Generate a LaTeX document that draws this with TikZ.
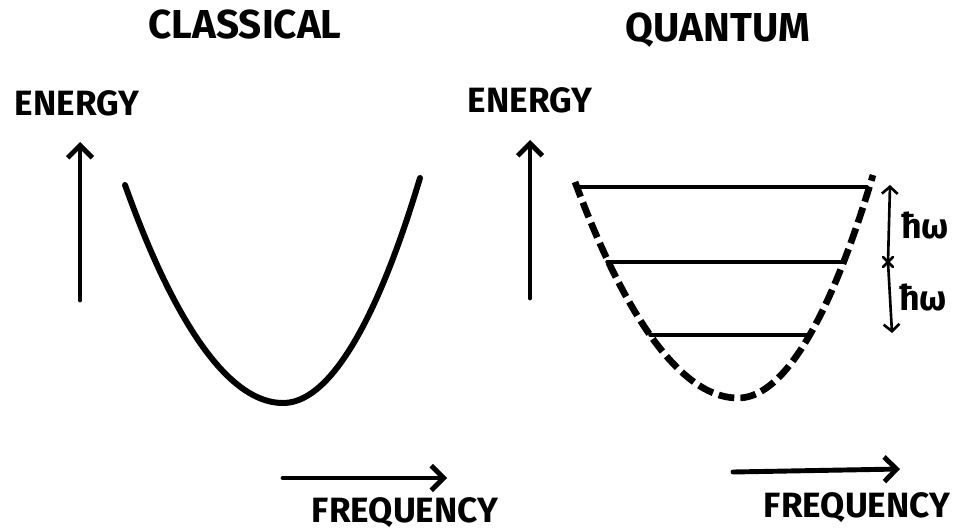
\documentclass[tikz,border=0pt]{standalone}
\usepackage{fontspec}
\setmainfont{Fira Sans}
\usetikzlibrary{calc}
\usetikzlibrary{positioning,arrows.meta}

\begin{document}
\begin{tikzpicture}[
  x=0.02cm, y=-0.02cm,
  >={Straight Barb[length=7pt,width=14pt]},   % hand drawn chevron tips
  title/.style={font=\fontsize{23}{23}\selectfont\bfseries, inner sep=0pt},
  word/.style={font=\fontsize{20}{20}\selectfont\bfseries, inner sep=0pt},
  axis/.style={->, line width=2.8pt, line cap=round},
  well/.style={line width=3.4pt, line cap=round},
  dashwell/.style={line width=3.8pt, dash pattern=on 9pt off 3.5pt},
  level/.style={line width=2pt, line cap=round},
  gap/.style={line width=1.5pt, line cap=round, >={Straight Barb[length=4pt,width=9pt]}}
]
\useasboundingbox (0,0) rectangle (959,530);

% Titles
\node[title] (classical) at (245,25) {CLASSICAL};
\node[title] (quantum)   at (718,30) {QUANTUM};

% Classical side
\coordinate (eLowL)  at (80,300);
\coordinate (eHighL) at (80,142);
\node[word] (energyL) at (77,103) {ENERGY};
\draw[axis] (eLowL) -- (eHighL);

\coordinate (fLowL)  at (283,478);
\coordinate (fHighL) at (447,478);
\node[word] (freqL) at (405,513) {FREQUENCY};
\draw[axis] (fLowL) -- (fHighL);

\coordinate (cA) at (125,185);
\coordinate (cB) at (283,403);
\coordinate (cC) at (420,178);
\draw[well] (cA) parabola bend (cB) (cC);

% Quantum side
\coordinate (eLowR)  at (530,298);
\coordinate (eHighR) at (530,140);
\node[word] (energyR) at (530,100) {ENERGY};
\draw[axis] (eLowR) -- (eHighR);

\coordinate (fLowR)  at (733,472);
\coordinate (fHighR) at (900,469);
\node[word] (freqR) at (857,508) {FREQUENCY};
\draw[axis] (fLowR) -- (fHighR);

\coordinate (qA) at (575,182);
\coordinate (qB) at (738,398);
\coordinate (qC) at (873,175);
\draw[dashwell] (qA) parabola bend (qB) (qC);

% Levels
\coordinate (l1a) at (578,187); \coordinate (l1b) at (867,187);
\coordinate (l2a) at (607,262); \coordinate (l2b) at (843,262);
\coordinate (l3a) at (650,335); \coordinate (l3b) at (811,335);
\draw[level] (l1a) -- (l1b);
\draw[level] (l2a) -- (l2b);
\draw[level] (l3a) -- (l3b);

% Spacing
\coordinate (g1) at (890,185);
\coordinate (g2) at (888,262);
\coordinate (g3) at (892,333);
\draw[gap,->] (g2) -- (g1);
\draw[gap,->] (g2) -- (g3);
\draw[gap] ($(g2)+(-5,-5)$) -- ($(g2)+(5,5)$);
\draw[gap] ($(g2)+(-5,5)$) -- ($(g2)+(5,-5)$);
\node[word] (hw1) at (925,225) {ħω};
\node[word] (hw2) at (923,297) {ħω};
\end{tikzpicture}
\end{document}
